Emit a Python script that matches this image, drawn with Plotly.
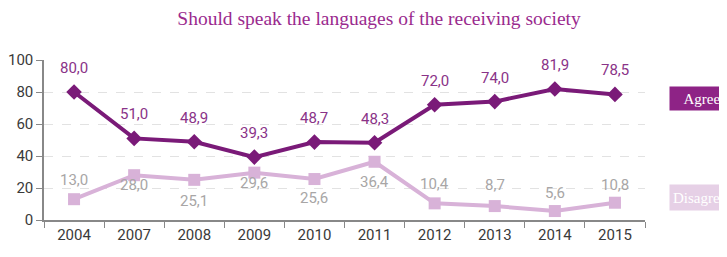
import plotly.graph_objects as go

# ---- data ----
years = ["2004", "2007", "2008", "2009", "2010", "2011", "2012", "2013", "2014", "2015"]
agree = [80.0, 51.0, 48.9, 39.3, 48.7, 48.3, 72.0, 74.0, 81.9, 78.5]
disagree = [13.0, 28.0, 25.1, 29.6, 25.6, 36.4, 10.4, 8.7, 5.6, 10.8]
y_ticks = [0, 20, 40, 60, 80, 100]

# ---- styling ----
disagree_label_shift = [19, -10, -21, -10, -19, -20, 19, 21, 18, 18]  # px offsets of value labels
agree_label_shift = 24

NUM_FONT = "Roboto, Liberation Sans, sans-serif"
SERIF = "Liberation Serif, DejaVu Serif, serif"
AGREE_C = "#7a1a78"
DIS_C = "#d8b2d8"

# page body has an 8px default margin, so the figure is sized to fit the window
W, H = 719, 249

fig = go.Figure()
fig.add_trace(go.Scatter(x=years, y=disagree, mode="lines+markers",
                         line=dict(color=DIS_C, width=4),
                         marker=dict(symbol="square", size=12, color=DIS_C),
                         cliponaxis=False, showlegend=False))
fig.add_trace(go.Scatter(x=years, y=agree, mode="lines+markers",
                         line=dict(color=AGREE_C, width=4),
                         marker=dict(symbol="diamond", size=12, color=AGREE_C),
                         cliponaxis=False, showlegend=False))

def fmt(v):
    return f"{v:.1f}".replace(".", ",")

for i, v in enumerate(agree):
    fig.add_annotation(x=i, y=v, text=fmt(v), showarrow=False, yshift=agree_label_shift,
                       font=dict(family=NUM_FONT, size=15, color="#8a3388"))
for i, (v, s) in enumerate(zip(disagree, disagree_label_shift)):
    fig.add_annotation(x=i, y=v, text=fmt(v), showarrow=False, yshift=s,
                       font=dict(family=NUM_FONT, size=15, color="#a8a6a6"))

fig.add_annotation(xref="paper", yref="paper", x=1.0, y=0.759, xanchor="left", yanchor="middle",
                   xshift=24, text="Agree", showarrow=False, bgcolor="#8e2386",
                   width=62, height=21, align="center", borderpad=1,
                   font=dict(family=SERIF, size=15, color="white"))
fig.add_annotation(xref="paper", yref="paper", x=1.0, y=0.141, xanchor="left", yanchor="middle",
                   xshift=24, text="Disagree", showarrow=False, bgcolor="#e6d0e6",
                   height=19, align="left", borderpad=3,
                   font=dict(family=SERIF, size=15, color="white"))

fig.update_layout(
    width=W, height=H,
    margin=dict(l=36, r=82, t=52, b=37),
    paper_bgcolor="white", plot_bgcolor="white",
    title=dict(text="Should speak the languages of the receiving society",
               x=371 / W, xanchor="center", y=1 - 10 / H, yanchor="middle",
               font=dict(family=SERIF, size=19.5, color="#9a2a8e")),
    xaxis=dict(type="category", range=[-0.5, len(years) - 0.5], automargin=False,
               tickson="boundaries", ticks="outside", ticklen=6,
               tickcolor="#888", showline=True, linecolor="#888", linewidth=1.5,
               showgrid=False, tickfont=dict(family=NUM_FONT, size=15, color="#3a3a3a")),
    yaxis=dict(range=[0, 100], tickvals=y_ticks, ticks="outside", ticklen=6, automargin=False,
               tickcolor="#888", showline=True, linecolor="#888", linewidth=1.5,
               showgrid=True, gridcolor="#e2e2e2", griddash="dash", zeroline=False,
               tickfont=dict(family=NUM_FONT, size=15, color="#3a3a3a")),
)

fig.write_html("out.html")
